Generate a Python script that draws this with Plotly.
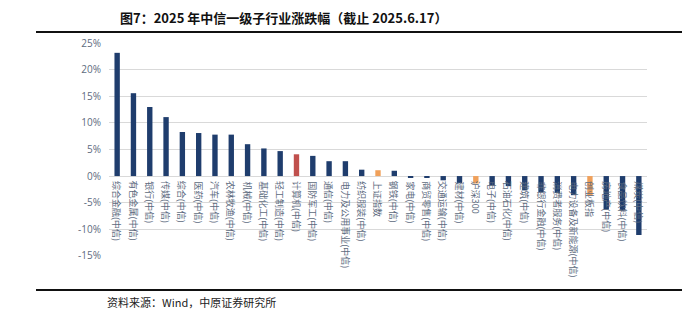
import plotly.graph_objects as go

categories = [
    "综合金融(中信)", "有色金属(中信)", "银行(中信)", "传媒(中信)", "综合(中信)",
    "医药(中信)", "汽车(中信)", "农林牧渔(中信)", "机械(中信)", "基础化工(中信)",
    "轻工制造(中信)", "计算机(中信)", "国防军工(中信)", "通信(中信)",
    "电力及公用事业(中信)", "纺织服装(中信)", "上证指数", "钢铁(中信)", "家电(中信)",
    "商贸零售(中信)", "交通运输(中信)", "建材(中信)", "沪深300", "电子(中信)",
    "石油石化(中信)", "建筑(中信)", "非银行金融(中信)", "消费者服务(中信)",
    "电力设备及新能源(中信)", "创业板指", "房地产(中信)", "食品饮料(中信)", "煤炭(中信)",
]
values = [
    23.2, 15.6, 13.0, 11.1, 8.3,
    8.1, 7.8, 7.8, 6.0, 5.2,
    4.7, 4.1, 3.8, 2.8,
    2.8, 1.2, 1.1, 1.0, -0.3,
    -0.3, -0.8, -1.3, -1.4, -1.75,
    -1.9, -2.7, -3.0, -3.2,
    -3.6, -3.7, -6.3, -6.4, -11.1,
]
index_names = ["上证指数", "沪深300", "创业板指"]
highlight_names = ["计算机(中信)"]

y_ticks = [-15, -10, -5, 0, 5, 10, 15, 20, 25]
y_tick_text = [f"{v}%" for v in y_ticks]

title_text = "图7：2025 年中信一级子行业涨跌幅（截止 2025.6.17）"
source_text = "资料来源：Wind，中原证券研究所"

NAVY = "#1f3d6d"
RED = "#c0504d"
ORANGE = "#f0a05a"
colors = [ORANGE if c in index_names else RED if c in highlight_names else NAVY
          for c in categories]

FONT = "Noto Sans CJK SC"
LABEL_COLOR = "#5d6b80"

fig = go.Figure()
fig.add_trace(go.Bar(x=categories, y=values,
                     marker=dict(color=colors, line=dict(width=0)),
                     hoverinfo="x+y"))

# category labels hang vertically just below the zero line
for c in categories:
    fig.add_annotation(
        x=c, y=0, xref="x", yref="y", text=c, showarrow=False,
        textangle=90, xanchor="center", yanchor="top", yshift=-3,
        font=dict(family=FONT, size=9, color=LABEL_COLOR),
    )

fig.update_layout(
    width=700, height=331,
    margin=dict(l=109, r=53, t=43, b=75),
    paper_bgcolor="white", plot_bgcolor="white",
    showlegend=False,
    bargap=0.67,
    font=dict(family=FONT),
    xaxis=dict(showticklabels=False, showgrid=False, zeroline=False, showline=False,
               ticks="", range=[-0.5, len(categories) - 0.5]),
    yaxis=dict(range=[-15.05, 25.05], tickvals=y_ticks, ticktext=y_tick_text,
               showgrid=True, gridcolor="#d9d9d9", gridwidth=1,
               zeroline=True, zerolinecolor="#d9d9d9", zerolinewidth=1,
               showline=False, ticks="", ticklabelstandoff=7,
               tickfont=dict(family="Open Sans", size=10, color=LABEL_COLOR)),
)

# plot area spans x 109..647 px, y 43..256 px; express page items in paper units
PX0, PW, PY0, PH = 109, 538, 256, 213

def px(xp):
    return (xp - PX0) / PW

def py(yp):
    return (PY0 - yp) / PH

fig.add_annotation(x=px(118), y=py(17), xref="paper", yref="paper",
                   xanchor="left", yanchor="middle", showarrow=False,
                   text=f"<b>{title_text}</b>",
                   font=dict(family=FONT, size=13, color="#111111"))
fig.add_annotation(x=px(105), y=py(302), xref="paper", yref="paper",
                   xanchor="left", yanchor="middle", showarrow=False,
                   text=source_text,
                   font=dict(family=FONT, size=11, color="#222222"))
for yline in (32, 290):
    fig.add_shape(type="line", xref="paper", yref="paper",
                  x0=px(36), x1=px(682), y0=py(yline), y1=py(yline),
                  line=dict(color="#111111", width=2))

fig.write_html("out.html")
